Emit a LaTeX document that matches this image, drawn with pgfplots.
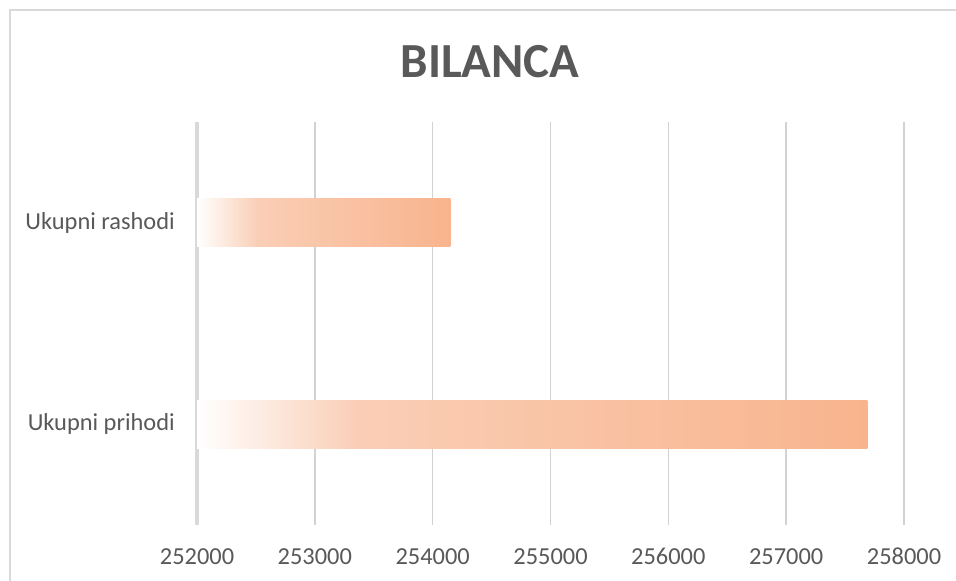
\documentclass[border=0pt]{standalone}
\usepackage{pgfplots}
\pgfplotsset{compat=1.18}
\usepackage{fontspec}
\setmainfont{Carlito}
\definecolor{ctext}{HTML}{595959}
\definecolor{cborder}{HTML}{D9D9D9}
\definecolor{cgrid}{HTML}{D2D2D2}
\definecolor{pkA}{HTML}{FACEB6}
\definecolor{pkB}{HTML}{F8B48D}
\pgfdeclarehorizontalshading{barshade}{100bp}{color(0bp)=(white); color(25bp)=(white); color(37bp)=(pkA); color(75bp)=(pkB); color(100bp)=(pkB)}
\begin{document}
\begin{tikzpicture}[x=1pt,y=1pt]
\useasboundingbox (0,0) rectangle (956,581);
\fill[white] (0,0) rectangle (956,581);
\draw[cborder, line width=2pt] (9.5,-20) -- (9.5,570.5) -- (1000,570.5);
\node[font=\bfseries\fontsize{49}{58}\selectfont, text=ctext, inner sep=0pt] at (490,519) {BILANCA};
\begin{axis}[
  at={(197pt,56pt)}, anchor=south west,
  scale only axis, width=707pt, height=403pt,
  xmin=252000, xmax=258000, ymin=-0.5, ymax=1.5,
  xtick={252000,253000,254000,255000,256000,257000,258000},
  ytick={0,1}, yticklabels={Ukupni prihodi, Ukupni rashodi},
  scaled x ticks=false,
  xticklabel={\pgfmathprintnumber[fixed, 1000 sep={}]{\tick}},
  /pgf/number format/assume math mode=true,
  major tick length=0pt,
  axis lines=left,
  axis line style={-},
  x axis line style={draw=none},
  y axis line style={line width=4pt, draw=cborder},
  xmajorgrids,
  grid style={line width=1.6pt, draw=cgrid},
  ticklabel style={font=\fontsize{24.4}{29}\selectfont, text=ctext},
  xticklabel style={anchor=north, inner sep=0pt, yshift=-23pt},
  yticklabel style={anchor=east, inner sep=0pt, xshift=-22pt},
  clip=false,
]
\addplot[draw=none, shading=barshade] coordinates {(252000,0.88) (254150,0.88) (254150,1.12) (252000,1.12)} -- cycle;
\addplot[draw=none, shading=barshade] coordinates {(252000,-0.12) (257690,-0.12) (257690,0.12) (252000,0.12)} -- cycle;
\end{axis}
\end{tikzpicture}
\end{document}
